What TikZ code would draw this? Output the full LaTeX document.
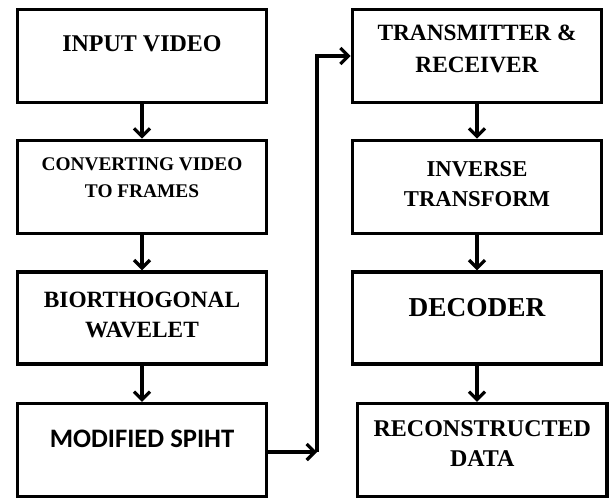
\documentclass[tikz,border=0pt]{standalone}
\usepackage{fontspec}
\setmainfont{Liberation Serif}
\newfontfamily\calibri{Carlito}
\usetikzlibrary{arrows.meta,positioning}

\begin{document}
\begin{tikzpicture}[x=0.75pt, y=-0.75pt, node distance=98.25pt]
  \tikzstyle{block} = [rectangle, draw=black, line width=2.6pt, minimum width=187pt, minimum height=70pt, inner sep=0pt]
  \tikzstyle{boxtext} = [align=center, inner sep=0pt]
  \tikzstyle{arrow} = [line width=2.4pt, -{Straight Barb[length=6pt,width=12pt,line width=2.4pt]}]

  \useasboundingbox (0,0) rectangle (611,497);

  % left column
  \node (inp) [block] at (142,56) {};
  \node (conv) [block, below of=inp] {};
  \node (bio) [block, below of=conv, minimum height=69pt] {};
  \node (mod) [block, below of=bio, minimum height=70pt, yshift=-1pt] {};

  % right column
  \node (trans) [block] at (477,56) {};
  \node (inv) [block, below of=trans] {};
  \node (dec) [block, below of=inv, minimum height=69pt] {};
  \node (rec) [block, below of=dec, xshift=4pt, minimum height=70pt, yshift=-1pt] {};

  % texts sit near the top of each box
  \node (inptxt) [boxtext, below=21pt of inp.north, font=\bfseries\fontsize{18}{22}\selectfont] {INPUT VIDEO};
  \node (convtxt) [boxtext, below=14pt of conv.north, font=\bfseries\fontsize{14.5}{20}\selectfont] {CONVERTING VIDEO\\TO FRAMES};
  \node (biotxt) [boxtext, below=16pt of bio.north, font=\bfseries\fontsize{17.5}{23}\selectfont] {BIORTHOGONAL\\WAVELET};
  \node (modtxt) [boxtext, below=21pt of mod.north, font=\calibri\bfseries\fontsize{20}{24}\selectfont] {MODIFIED SPIHT};
  \node (transtxt) [boxtext, below=13pt of trans.north, font=\bfseries\fontsize{17.5}{24}\selectfont] {TRANSMITTER \&\\RECEIVER};
  \node (invtxt) [boxtext, below=17pt of inv.north, font=\bfseries\fontsize{17}{22.5}\selectfont] {INVERSE\\TRANSFORM};
  \node (dectxt) [boxtext, below=21pt of dec.north, font=\bfseries\fontsize{20.5}{24}\selectfont] {DECODER};
  \node (rectxt) [boxtext, below=14pt of rec.north, font=\bfseries\fontsize{18}{22.5}\selectfont] {RECONSTRUCTED\\DATA};

  \coordinate (bend) at (317,452);

  \draw [arrow] (inp) -- (conv);
  \draw [arrow] (conv) -- (bio);
  \draw [arrow] (bio) -- (mod);
  \draw [arrow] (mod.east |- bend) -- (bend);
  % up the gap, then into the right column
  \draw [arrow] (bend) |- (trans.west);
  \draw [arrow] (trans) -- (inv);
  \draw [arrow] (inv) -- (dec);
  \draw [arrow] (dec.south) -- (dec.south |- rec.north);
\end{tikzpicture}
\end{document}
